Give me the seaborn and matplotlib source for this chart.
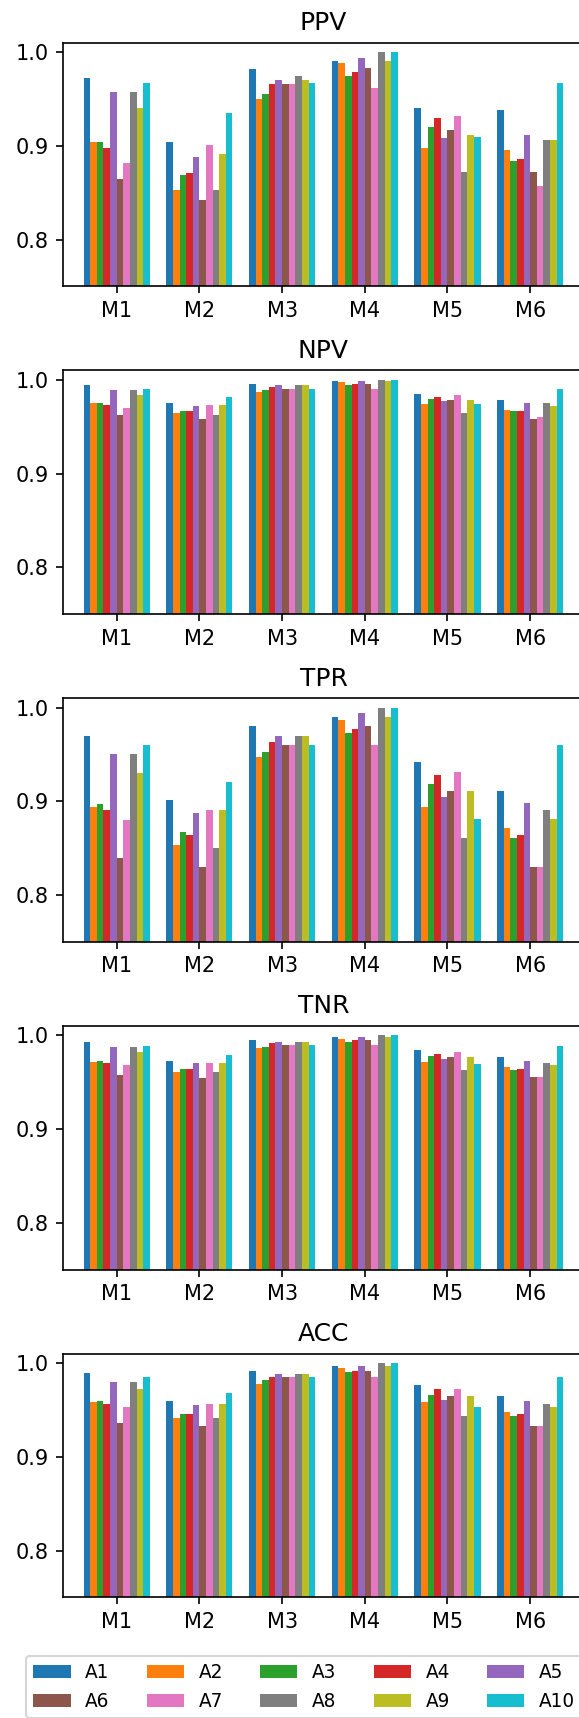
import matplotlib
matplotlib.use("Agg")
import matplotlib.pyplot as plt
import seaborn as sns
import pandas as pd

# models on the x axis, algorithms as hue
models = ["M1", "M2", "M3", "M4", "M5", "M6"]
algos = ["A1", "A2", "A3", "A4", "A5", "A6", "A7", "A8", "A9", "A10"]

# one row per model, one value per algorithm
ppv = [
    [0.972, 0.904, 0.904, 0.898, 0.957, 0.865, 0.882, 0.957, 0.940, 0.967],
    [0.904, 0.853, 0.869, 0.871, 0.888, 0.842, 0.901, 0.853, 0.891, 0.935],
    [0.982, 0.950, 0.955, 0.966, 0.970, 0.966, 0.966, 0.974, 0.970, 0.967],
    [0.991, 0.988, 0.974, 0.979, 0.994, 0.983, 0.962, 1.000, 0.991, 1.000],
    [0.940, 0.898, 0.920, 0.930, 0.908, 0.917, 0.932, 0.872, 0.911, 0.909],
    [0.938, 0.896, 0.884, 0.886, 0.911, 0.872, 0.857, 0.906, 0.906, 0.967],
]
npv = [
    [0.994, 0.975, 0.975, 0.973, 0.989, 0.962, 0.970, 0.989, 0.984, 0.990],
    [0.975, 0.965, 0.967, 0.967, 0.972, 0.958, 0.973, 0.963, 0.973, 0.982],
    [0.996, 0.987, 0.989, 0.992, 0.994, 0.990, 0.990, 0.994, 0.994, 0.990],
    [0.999, 0.998, 0.994, 0.996, 0.999, 0.996, 0.990, 1.000, 0.999, 1.000],
    [0.985, 0.974, 0.980, 0.982, 0.977, 0.979, 0.984, 0.965, 0.979, 0.974],
    [0.979, 0.968, 0.967, 0.967, 0.975, 0.958, 0.960, 0.975, 0.972, 0.990],
]
tpr = [
    [0.970, 0.894, 0.897, 0.891, 0.950, 0.840, 0.880, 0.950, 0.930, 0.960],
    [0.901, 0.853, 0.867, 0.864, 0.887, 0.830, 0.891, 0.850, 0.891, 0.921],
    [0.980, 0.947, 0.953, 0.963, 0.970, 0.960, 0.960, 0.970, 0.970, 0.960],
    [0.990, 0.987, 0.973, 0.977, 0.994, 0.980, 0.960, 1.000, 0.990, 1.000],
    [0.942, 0.894, 0.918, 0.928, 0.905, 0.911, 0.931, 0.861, 0.911, 0.881],
    [0.911, 0.871, 0.861, 0.864, 0.898, 0.830, 0.830, 0.891, 0.881, 0.960],
]
tnr = [
    [0.993, 0.972, 0.973, 0.971, 0.988, 0.958, 0.968, 0.988, 0.982, 0.989],
    [0.973, 0.961, 0.964, 0.964, 0.970, 0.955, 0.971, 0.961, 0.971, 0.979],
    [0.995, 0.986, 0.988, 0.992, 0.993, 0.990, 0.990, 0.993, 0.993, 0.990],
    [0.998, 0.996, 0.993, 0.995, 0.998, 0.995, 0.990, 1.000, 0.998, 1.000],
    [0.984, 0.972, 0.978, 0.980, 0.975, 0.977, 0.982, 0.963, 0.977, 0.969],
    [0.977, 0.966, 0.963, 0.964, 0.973, 0.956, 0.956, 0.971, 0.968, 0.989],
]
acc = [
    [0.989, 0.958, 0.960, 0.956, 0.980, 0.936, 0.953, 0.980, 0.972, 0.985],
    [0.960, 0.941, 0.946, 0.946, 0.955, 0.933, 0.956, 0.941, 0.956, 0.968],
    [0.992, 0.978, 0.982, 0.985, 0.988, 0.985, 0.985, 0.988, 0.988, 0.985],
    [0.997, 0.995, 0.990, 0.992, 0.997, 0.992, 0.985, 1.000, 0.997, 1.000],
    [0.977, 0.958, 0.966, 0.972, 0.961, 0.965, 0.972, 0.944, 0.965, 0.953],
    [0.965, 0.948, 0.944, 0.946, 0.960, 0.933, 0.933, 0.956, 0.953, 0.985],
]

metric_names = ["PPV", "NPV", "TPR", "TNR", "ACC"]
metric_values = [ppv, npv, tpr, tnr, acc]


def to_long(values):
    rows = []
    for m, row in zip(models, values):
        for a, v in zip(algos, row):
            rows.append({"model": m, "algo": a, "value": v})
    return pd.DataFrame(rows)


def main():
    W, H, DPI = 579, 1718, 150
    fig = plt.figure(figsize=(W / DPI, H / DPI), dpi=DPI)

    # axes boxes in pixels (from top)
    left_px, right_px = 63.3, 583.6
    top0, pitch, height = 42.7, 327.75, 243.7

    handles, labels = None, None
    for k, (name, vals) in enumerate(zip(metric_names, metric_values)):
        top = top0 + pitch * k
        ax = fig.add_axes([left_px / W, 1 - (top + height) / H,
                           (right_px - left_px) / W, height / H])
        df = to_long(vals)
        sns.barplot(data=df, x="model", y="value", hue="algo",
                    order=models, hue_order=algos, palette="tab10",
                    saturation=1, width=0.8, errorbar=None, linewidth=0,
                    legend=(k == 0), ax=ax)
        if k == 0:
            handles, labels = ax.get_legend_handles_labels()
            ax.get_legend().remove()
        ax.set_xlim(-0.646, 5.646)
        ax.set_ylim(0.75, 1.01)
        ax.set_yticks([0.8, 0.9, 1.0])
        ax.set_xlabel("")
        ax.set_ylabel("")
        ax.set_title(name, fontsize=12)
        ax.tick_params(labelsize=10)

    # legend filled row by row
    order = [0, 5, 1, 6, 2, 7, 3, 8, 4, 9]
    fig.legend([handles[i] for i in order], [labels[i] for i in order],
               ncol=5, loc="upper left", fontsize=8.9,
               bbox_to_anchor=(26 / W, 1 - 1656 / H),
               bbox_transform=fig.transFigure, borderaxespad=0)

    fig.savefig("out.png", dpi=DPI)


if __name__ == "__main__":
    main()
